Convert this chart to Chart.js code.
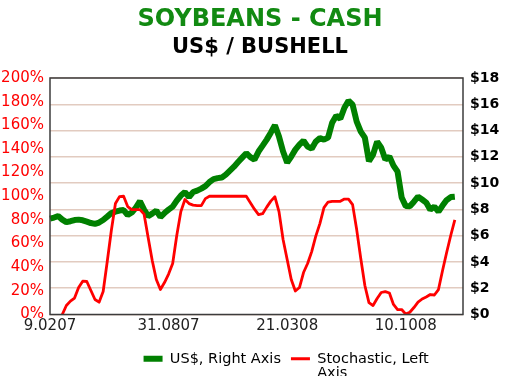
<!DOCTYPE html>
<html>
<head>
<meta charset="utf-8">
<script src="https://cdn.jsdelivr.net/npm/chart.js@4/dist/chart.umd.min.js"></script>
<style>
  html, body { margin: 0; padding: 0; background: #ffffff; }
  #c { display: block; }
</style>
</head>
<body>
<canvas id="c" width="520" height="389"></canvas>
<script>
// Weekly dates (d.mmyy)
const categories = ["9.0207","16.0207","23.0207","2.0307","9.0307","16.0307","23.0307","30.0307","6.0407","13.0407","20.0407","27.0407","4.0507","11.0507","18.0507","25.0507","1.0607","8.0607","15.0607","22.0607","29.0607","6.0707","13.0707","20.0707","27.0707","3.0807","10.0807","17.0807","24.0807","31.0807","7.0907","14.0907","21.0907","28.0907","5.1007","12.1007","19.1007","26.1007","2.1107","9.1107","16.1107","23.1107","30.1107","7.1207","14.1207","21.1207","28.1207","4.0108","11.0108","18.0108","25.0108","1.0208","8.0208","15.0208","22.0208","29.0208","7.0308","14.0308","21.0308","28.0308","4.0408","11.0408","18.0408","25.0408","2.0508","9.0508","16.0508","23.0508","30.0508","6.0608","13.0608","20.0608","27.0608","4.0708","11.0708","18.0708","25.0708","1.0808","8.0808","15.0808","22.0808","29.0808","5.0908","12.0908","19.0908","26.0908","3.1008","10.1008","17.1008","24.1008","31.1008","7.1108","14.1108","21.1108","28.1108","5.1208","12.1208","19.1208","26.1208","2.0109","9.0109","16.0109"];

const xTickLabels = ["9.0207","31.0807","21.0308","10.1008"];

// US$ per bushell (right axis)
const priceUSD = [7.30,7.38,7.49,7.22,7.03,7.10,7.19,7.22,7.17,7.07,
  6.96,6.90,7.00,7.19,7.45,7.72,7.83,7.91,7.95,7.57,
  7.76,8.14,8.62,7.98,7.49,7.68,7.91,7.42,7.72,7.98,
  8.21,8.67,9.05,9.32,8.94,9.32,9.43,9.58,9.77,10.08,
  10.30,10.38,10.42,10.65,10.95,11.25,11.60,11.94,12.28,11.98,
  11.79,12.40,12.85,13.31,13.84,14.41,13.54,12.40,11.56,12.02,
  12.55,12.93,13.23,12.78,12.62,13.16,13.42,13.31,13.46,14.60,
  15.13,14.90,15.74,16.27,15.97,14.68,13.92,13.46,11.66,12.17,
  13.16,12.70,11.79,12.02,11.33,10.87,8.90,8.25,8.24,8.59,
  8.97,8.75,8.52,7.98,8.21,7.83,8.29,8.71,8.94,8.97];

// Stochastic % (left axis)
const stochastic = [null,null,null,0,7.6,11.3,13.9,22.8,28.2,27.9,
  20.3,12.7,10.4,19.4,44.8,71.0,93.8,99.7,100,91.3,
  88.7,88.7,88.7,84.9,65.1,45.6,29.6,21.1,27.0,34.2,
  43.1,66.8,87.0,97.2,93.8,92.5,92.1,92.1,98.0,100,
  100,100,100,100,100,100,100,100,100,94.6,
  89.1,84.5,85.3,90.8,95.9,99.5,87.0,63.4,46.5,29.6,
  19.9,22.8,35.5,43.1,53.2,66.3,76.9,90.4,95.1,95.7,
  95.7,95.7,97.6,97.6,92.9,71.8,47.3,24.5,10.1,7.6,
  13.5,18.6,19.4,18.2,8.5,4.2,4.2,0.3,1.9,5.9,
  10.4,13.1,14.8,16.9,16.5,21.1,37.2,52.4,66.8,80];

const leftTicks = {min: 0, max: 200, step: 20};
const rightTicks = {min: 0, max: 18, step: 2};

const FONT = "'DejaVu Sans', 'Liberation Sans', sans-serif";

const frameBox = {
  id: 'frameBox',
  afterLayout(chart) {
    // shift legend block to the right, as in the original
    if (chart.legend) { chart.legend.left = 87; }
  },
  afterDatasetsDraw(chart) {
    const a = chart.chartArea, ctx = chart.ctx;
    ctx.save();
    ctx.strokeStyle = '#3c3c3c';
    ctx.lineWidth = 1.5;
    ctx.strokeRect(a.left, a.top, a.right - a.left, a.bottom - a.top);
    ctx.restore();
  }
};

new Chart(document.getElementById('c'), {
  type: 'line',
  data: {
    labels: categories,
    datasets: [
      {
        label: 'US$, Right Axis',
        data: priceUSD,
        yAxisID: 'yR',
        borderColor: '#008000',
        backgroundColor: '#008000',
        borderWidth: 6,
        borderJoinStyle: 'bevel',
        pointRadius: 0,
        tension: 0,
        order: 2
      },
      {
        label: 'Stochastic, Left Axis',
        data: stochastic,
        yAxisID: 'yL',
        borderColor: '#ff0000',
        backgroundColor: '#ff0000',
        borderWidth: 2.8,
        borderJoinStyle: 'round',
        pointRadius: 0,
        tension: 0,
        order: 1
      }
    ]
  },
  options: {
    responsive: false,
    animation: false,
    devicePixelRatio: 1,
    layout: { padding: { left: 0, right: 0, top: 0, bottom: 13 } },
    plugins: {
      title: {
        display: true,
        text: 'SOYBEANS - CASH',
        color: '#128a12',
        font: { family: FONT, size: 24, weight: 'bold', lineHeight: 1.2 },
        padding: { top: 5, bottom: 0 }
      },
      subtitle: {
        display: true,
        text: 'US$ / BUSHELL',
        color: '#000000',
        font: { family: FONT, size: 21, weight: 'bold', lineHeight: 1.2 },
        padding: { top: 1, bottom: 18 }
      },
      legend: {
        display: true,
        position: 'bottom',
        labels: {
          usePointStyle: true,
          pointStyleWidth: 19,
          padding: 10,
          color: '#2a2a2a',
          font: { family: FONT, size: 14.5, lineHeight: 1.0 },
          generateLabels(chart) {
            return [
              { text: 'US$, Right Axis', strokeStyle: '#008000', fillStyle: '#008000',
                lineWidth: 6, pointStyle: 'line', lineCap: 'butt', datasetIndex: 0, hidden: false },
              { text: ['Stochastic, Left', 'Axis'], strokeStyle: '#ff0000', fillStyle: '#ff0000',
                lineWidth: 3, pointStyle: 'line', lineCap: 'butt', datasetIndex: 1, hidden: false }
            ];
          }
        }
      },
      tooltip: { enabled: false }
    },
    scales: {
      x: {
        type: 'category',
        grid: { display: false, drawTicks: false },
        border: { display: false },
        afterFit(s) { s.height = 27; },
        ticks: {
          autoSkip: false,
          maxRotation: 0,
          minRotation: 0,
          padding: 3,
          color: '#222222',
          font: { family: FONT, size: 15 },
          callback(v, i) {
            const lab = categories[i];
            return xTickLabels.includes(lab) ? lab : null;
          }
        }
      },
      yL: {
        type: 'linear',
        position: 'left',
        min: leftTicks.min,
        max: leftTicks.max,
        grid: { display: false, drawTicks: false },
        border: { display: false },
        afterFit(s) { s.width = 50; },
        ticks: {
          stepSize: leftTicks.step,
          padding: 6,
          color: '#ff0000',
          font: { family: FONT, size: 15 },
          callback: v => v + '%'
        }
      },
      yR: {
        type: 'linear',
        position: 'right',
        min: rightTicks.min,
        max: rightTicks.max,
        grid: { display: true, drawTicks: false, color: '#e2cbc0', lineWidth: 1.5 },
        border: { display: false },
        afterFit(s) { s.width = 57; },
        ticks: {
          stepSize: rightTicks.step,
          padding: 7,
          color: '#000000',
          font: { family: FONT, size: 14, weight: 'bold' },
          callback: v => '$' + v
        }
      }
    }
  },
  plugins: [frameBox]
});
</script>
</body>
</html>
